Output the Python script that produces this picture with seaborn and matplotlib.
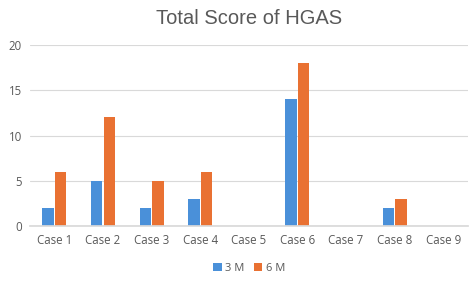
import matplotlib
matplotlib.use("Agg")
import matplotlib.pyplot as plt
import pandas as pd
import seaborn as sns

cases = ["Case 1", "Case 2", "Case 3", "Case 4", "Case 5", "Case 6", "Case 7", "Case 8", "Case 9"]
score_3m = [2, 5, 2, 3, 0, 14, 0, 2, 0]
score_6m = [6, 12, 5, 6, 0, 18, 0, 3, 0]

data = pd.DataFrame({
    "case": cases * 2,
    "score": score_3m + score_6m,
    "period": ["3 M"] * len(cases) + ["6 M"] * len(cases),
})

sns.set_theme(style="white")
plt.rcParams['font.family'] = ['Open Sans', 'DejaVu Sans']

fig = plt.figure(figsize=(4.7, 2.85), dpi=100)
ax = fig.add_axes([0.064, 0.207, 0.931, 0.635])

sns.barplot(data=data, x="case", y="score", hue="period",
            palette={"3 M": "#4A90D9", "6 M": "#E97132"},
            width=0.52, gap=0.1, saturation=1, linewidth=0, ax=ax)

ax.set_ylim(0, 20)
ax.set_yticks([0, 5, 10, 15, 20])
ax.set_xlim(-0.5, 8.5)
ax.yaxis.grid(True, color="#D9D9D9", linewidth=0.8)
ax.set_axisbelow(True)
for s in ["top", "right", "left"]:
    ax.spines[s].set_visible(False)
ax.spines["bottom"].set_color("#D9D9D9")
ax.tick_params(axis="both", length=0, labelsize=8.3, colors="#595959", pad=6)
ax.set_xlabel("")
ax.set_ylabel("")

fig.text(0.53, 0.935, "Total Score of HGAS", ha="center", va="center",
         fontsize=14.5, color="#595959", family=["Liberation Sans", "DejaVu Sans"])

handles, labels = ax.get_legend_handles_labels()
ax.get_legend().remove()
fig.legend(handles, labels, loc="center", bbox_to_anchor=(0.53, 0.058), ncol=2,
           frameon=False, fontsize=8, handlelength=0.8, handleheight=0.8,
           handletextpad=0.3, columnspacing=0.8, labelcolor="#595959")

fig.savefig("out.png", dpi=100)
